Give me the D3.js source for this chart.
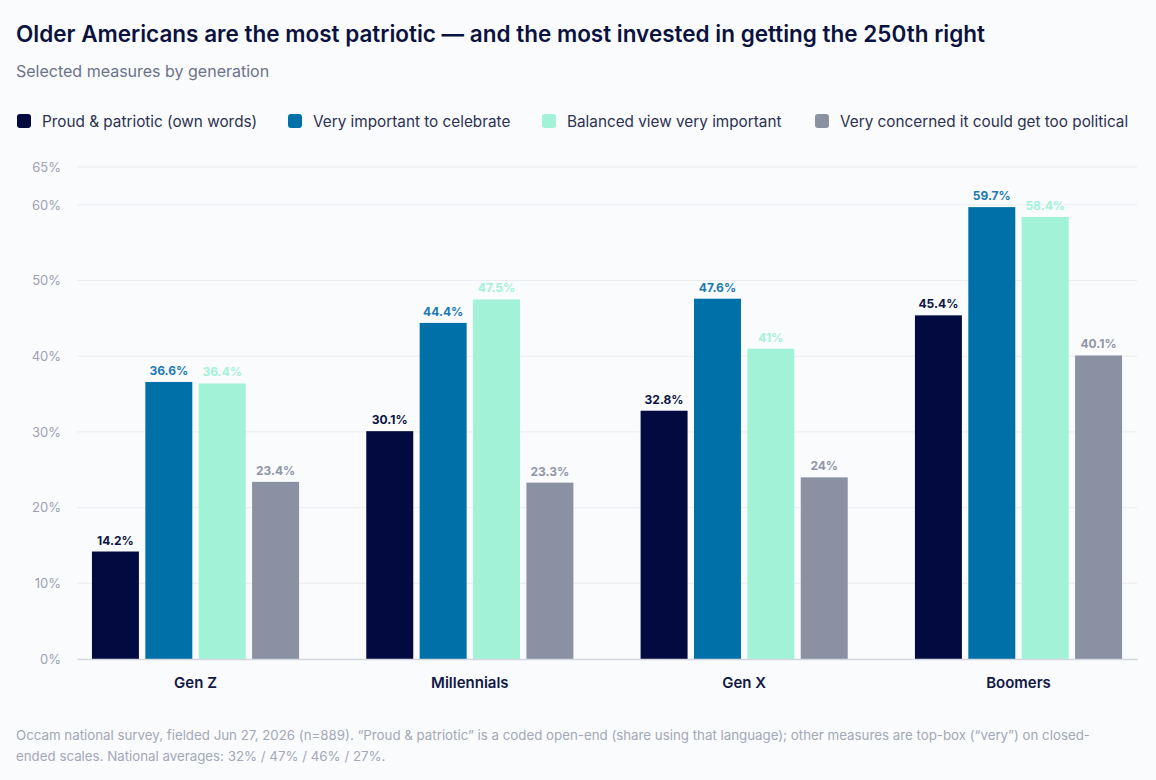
<!DOCTYPE html>
<html><head><meta charset="utf-8">
<script src="https://cdn.jsdelivr.net/npm/d3@7"></script>
<style>
html,body{margin:0;padding:0;background:#fafbfd;}
svg{display:block;font-family:Inter,"Noto Sans",sans-serif;}
</style></head>
<body><svg id="c" width="1156" height="780"></svg>
<script>
const categories = ["Gen Z","Millennials","Gen X","Boomers"];
const seriesNames = ["Proud & patriotic (own words)","Very important to celebrate","Balanced view very important","Very concerned it could get too political"];
const proud = [14.2, 30.1, 32.8, 45.4];
const celebrate = [36.6, 44.4, 47.6, 59.7];
const balanced = [36.4, 47.5, 41, 58.4];
const concerned = [23.4, 23.3, 24, 40.1];
const yTicks = [0,10,20,30,40,50,60,65];
const colors = ["#020a3f","#0070a8","#a2f2d8","#8a91a3"];
const labelColors = ["#0b1442","#1a7ab3","#a2f2d8","#8f96a8"];

const seriesValues = [proud, celebrate, balanced, concerned];
const svg = d3.select("#c");

svg.append("text").attr("x",16).attr("y",42).attr("font-size",22.5).attr("font-weight",600)
  .attr("fill","#0a1240").text("Older Americans are the most patriotic — and the most invested in getting the 250th right");
svg.append("text").attr("x",16).attr("y",77).attr("font-size",16).attr("fill","#6b7389")
  .text("Selected measures by generation");

// legend
const legendX = [17, 288, 542, 815];
seriesNames.forEach((n,i)=>{
  const g = svg.append("g").attr("transform",`translate(${legendX[i]},114)`);
  g.append("rect").attr("width",14).attr("height",14).attr("rx",3).attr("fill",colors[i]);
  g.append("text").attr("x",25).attr("y",12.5).attr("font-size",15.3).attr("fill","#2b3152").text(n);
});

const pLeft = 77, pRight = 1137, pTop = 167, pBottom = 659;
const y = d3.scaleLinear().domain([0,65]).range([pBottom, pTop]);
const x0 = d3.scaleBand().domain(categories).range([pLeft,pRight]).paddingInner(0.136).paddingOuter(0);
const x1 = d3.scaleBand().domain(d3.range(4)).range([0,x0.bandwidth()]).paddingInner(0.12).paddingOuter(0.28);

// grid
svg.append("g").selectAll("line").data(yTicks.filter(d=>d>0)).join("line")
  .attr("x1",pLeft).attr("x2",pRight).attr("y1",d=>y(d)).attr("y2",d=>y(d))
  .attr("stroke","#e9ecf1").attr("stroke-width",1);

// y axis
const yAxis = d3.axisLeft(y).tickValues(yTicks).tickFormat(d=>d+"%").tickSize(0).tickPadding(16);
const ya = svg.append("g").attr("transform",`translate(${pLeft},0)`).call(yAxis);
ya.select(".domain").remove();
ya.selectAll("text").attr("font-size",13).attr("fill","#9ba1b3").attr("font-family","Inter,sans-serif");

// bars
const groups = svg.append("g").selectAll("g").data(categories).join("g")
  .attr("transform",c=>`translate(${x0(c)},0)`);
groups.each(function(c,ci){
  const g = d3.select(this);
  seriesValues.forEach((vals,si)=>{
    const v = vals[ci];
    g.append("rect").attr("x",x1(si)).attr("width",x1.bandwidth())
      .attr("y",y(v)).attr("height",y(0)-y(v)).attr("fill",colors[si]);
    g.append("text").attr("x",x1(si)+x1.bandwidth()/2).attr("y",y(v)-7)
      .attr("text-anchor","middle").attr("font-size",12).attr("font-weight",700)
      .attr("fill",labelColors[si]).text(v+"%");
  });
});

// x axis
const xAxis = d3.axisBottom(x0).tickSize(0).tickPadding(18);
const xa = svg.append("g").attr("transform",`translate(0,${pBottom})`).call(xAxis);
xa.select(".domain").attr("stroke","#d3d7e0").attr("stroke-width",1.5);
xa.selectAll("text").attr("font-size",15).attr("font-weight",600).attr("fill","#111845").attr("font-family","Inter,sans-serif");

// footer
const foot = svg.append("text").attr("font-size",13.3).attr("fill","#a2a8b8");
foot.append("tspan").attr("x",16).attr("y",740).text("Occam national survey, fielded Jun 27, 2026 (n=889). “Proud & patriotic” is a coded open-end (share using that language); other measures are top-box (“very”) on closed-");
foot.append("tspan").attr("x",16).attr("y",761).text("ended scales. National averages: 32% / 47% / 46% / 27%.");
</script></body></html>
